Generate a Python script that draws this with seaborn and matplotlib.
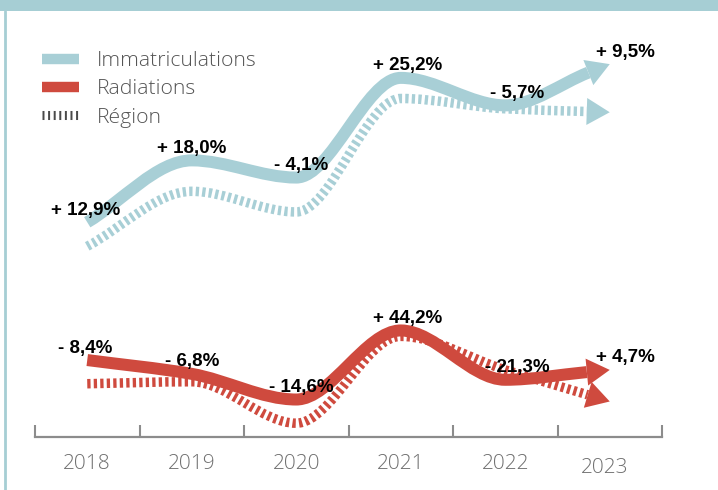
import numpy as np
import matplotlib
matplotlib.use("Agg")
import matplotlib.pyplot as plt
import seaborn as sns
from matplotlib.path import Path
from matplotlib.patches import PathPatch, Polygon, Rectangle
from matplotlib.lines import Line2D
from matplotlib.transforms import ScaledTranslation

# ---- data -------------------------------------------------------------
years = [2018, 2019, 2020, 2021, 2022, 2023]

# index levels (2018 = 100) and year-over-year changes
immat_level = [100, 118, 113, 142, 134, 146]
immat_region_level = [93, 109, 103, 136, 133, 132]
immat_change = ["+ 12,9%", "+ 18,0%", "- 4,1%", "+ 25,2%", "- 5,7%", "+ 9,5%"]

rad_level = [100, 93, 80, 115, 90, 95]
rad_region_level = [88, 89, 68, 112, 95, 79]
rad_change = ["- 8,4%", "- 6,8%", "- 14,6%", "+ 44,2%", "- 21,3%", "+ 4,7%"]

series_labels = ["Immatriculations", "Radiations", "Région"]

# ---- style ------------------------------------------------------------
TEAL = "#a8cfd6"
RED = "#cf4a3e"
AXIS_GREY = "#8c8c8c"
TEXT_GREY = "#555555"
LIGHT_FONT = ["Open Sans", "DejaVu Sans"]

sns.set_theme(style="white")
plt.rcParams["font.family"] = ["DejaVu Sans"]

W, H = 718, 490
fig = plt.figure(figsize=(W / 100, H / 100), dpi=100)
fig.patch.set_facecolor("white")


def axes_px(left, top, right, bottom):
    return fig.add_axes([left / W, 1 - bottom / H, (right - left) / W, (bottom - top) / H])


ax_top = axes_px(35, 16, 662, 291)
ax_bot = axes_px(35, 291, 662, 437)
for ax in (ax_top, ax_bot):
    ax.set_xlim(2017.5, 2023.5)
    ax.set_facecolor("none")
ax_top.set_ylim(80, 160)
ax_bot.set_ylim(61, 135)
ax_top.axis("off")
sns.despine(ax=ax_bot, left=True, top=True, right=True)
ax_bot.spines["bottom"].set_color(AXIS_GREY)
ax_bot.spines["bottom"].set_linewidth(1.6)
ax_bot.set_yticks([])


def pchip_slopes(x, y):
    x = np.asarray(x, float)
    y = np.asarray(y, float)
    d = np.diff(y) / np.diff(x)
    m = np.zeros_like(y)
    for k in range(1, len(y) - 1):
        if d[k - 1] * d[k] > 0:
            m[k] = 2.0 / (1.0 / d[k - 1] + 1.0 / d[k])
    m[0] = d[0]
    m[-1] = d[-1]
    return m


def draw_trend(ax, xs, ys, color, lw_px, dashed, head_len=23, head_w=27, z=2):
    xs = np.asarray(xs, float)
    ys = np.asarray(ys, float)
    m = pchip_slopes(xs, ys)
    T = ax.transData
    inv = T.inverted()
    tip = T.transform((xs[-1], ys[-1]))
    back = T.transform((xs[-1] - 0.1, ys[-1] - 0.1 * m[-1]))
    u = (tip - back) / np.hypot(*(tip - back))
    base = tip - u * head_len
    bx, by = inv.transform(base)
    px = xs.copy()
    py = ys.copy()
    px[-1], py[-1] = bx, by

    verts = [(px[0], py[0])]
    codes = [Path.MOVETO]
    for k in range(len(px) - 1):
        h = px[k + 1] - px[k]
        verts += [(px[k] + h / 3, py[k] + m[k] * h / 3),
                  (px[k + 1] - h / 3, py[k + 1] - m[k + 1] * h / 3),
                  (px[k + 1], py[k + 1])]
        codes += [Path.CURVE4] * 3
    lw = lw_px * 0.72
    ls = (0, (3.3 * 0.72 / lw, 3.2 * 0.72 / lw)) if dashed else "solid"
    ax.add_patch(PathPatch(Path(verts, codes), fill=False, edgecolor=color,
                           lw=lw, linestyle=ls, capstyle="butt",
                           joinstyle="round", zorder=z, clip_on=False))
    nrm = np.array([-u[1], u[0]])
    tri = inv.transform([tip, base + nrm * head_w / 2, base - nrm * head_w / 2])
    ax.add_patch(Polygon(tri, closed=True, facecolor=color, edgecolor="none",
                         zorder=z, clip_on=False))


draw_trend(ax_top, years, immat_region_level, TEAL, 9.5, True, z=2)
draw_trend(ax_top, years, immat_level, TEAL, 12, False, z=3)
draw_trend(ax_bot, years, rad_region_level, RED, 9.5, True, z=2)
draw_trend(ax_bot, years, rad_level, RED, 12, False, z=3)

# change labels above each node
label_dx = [-2, 0, 5, 7, 12, 16]
for ax, levels, texts in ((ax_top, immat_level, immat_change),
                          (ax_bot, rad_level, rad_change)):
    for x, y, t, dx in zip(years, levels, texts, label_dx):
        ax.annotate(t, (x, y), xytext=(dx * 0.72, 12 * 0.72),
                    textcoords="offset points", ha="center", va="center",
                    fontsize=13.5, fontweight="bold",
                    family=["Liberation Sans", "DejaVu Sans"],
                    color="black", zorder=6, annotation_clip=False)

# year axis
ax_bot.set_xticks(years)
ax_bot.set_xticklabels([str(y) for y in years], fontsize=15,
                       color="#6f6f6f", family=LIGHT_FONT, fontweight="light")
ax_bot.set_xticks(np.arange(2017.5, 2024.0, 1.0), minor=True)
ax_bot.tick_params(axis="x", which="major", length=0, pad=12.5)
ax_bot.tick_params(axis="x", which="minor", direction="in", length=8.6,
                   width=1.5, color=AXIS_GREY, bottom=True)
for lbl in ax_bot.get_xticklabels():
    if lbl.get_text() == "2023":
        lbl.set_transform(lbl.get_transform()
                          + ScaledTranslation(-0.05, -0.04, fig.dpi_scale_trans))

# legend
handles = [
    Line2D([], [], color=TEAL, lw=7.5, solid_capstyle="butt"),
    Line2D([], [], color=RED, lw=7.5, solid_capstyle="butt"),
    Line2D([], [], color="#4a4a4a", lw=6.5, linestyle=(0, (0.22, 0.4)),
           dash_capstyle="butt"),
]
fig.legend(handles, series_labels, loc="upper left",
           bbox_to_anchor=(42 / W, 1 - 51 / H), frameon=False,
           prop={"family": LIGHT_FONT, "size": 15.2, "weight": "light"},
           labelcolor=TEXT_GREY, handlelength=1.75, handletextpad=0.85,
           labelspacing=0.4, borderpad=0, borderaxespad=0)

# frame: teal band on top and thin rule on the left
fig.patches.append(Rectangle((0, 1 - 10.7 / H), 1, 10.7 / H,
                             transform=fig.transFigure, facecolor="#a6ced4",
                             edgecolor="none", zorder=0))
fig.lines.append(Line2D([5.3 / W, 5.3 / W], [0, 1 - 10.7 / H],
                        transform=fig.transFigure, color="#a6ced4", lw=2.0))

fig.savefig("out.png", dpi=100)
